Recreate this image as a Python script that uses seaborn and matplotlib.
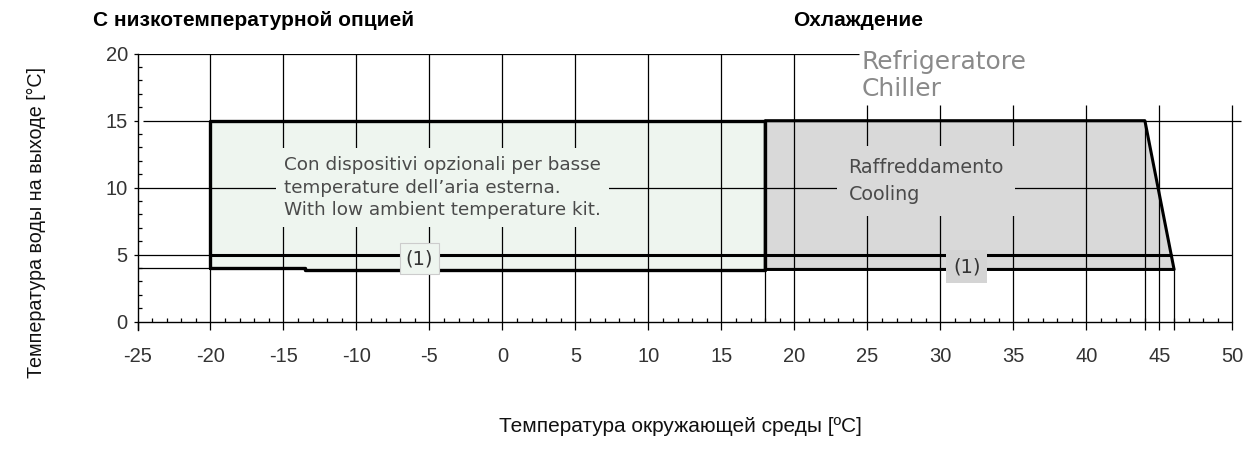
import matplotlib
matplotlib.use("Agg")
import matplotlib.pyplot as plt
from matplotlib.ticker import MultipleLocator
import seaborn as sns

# operating envelope data
low_amb_x = [-20, -20, 18, 18, -13.5, -13.5, -20]
low_amb_y = [4, 15, 15, 3.88, 3.88, 4, 4]
cooling_x = [18, 18, 44, 46, 18]
cooling_y = [3.88, 15, 15, 3.9, 3.9]
limit_x = [-20, 45.8]
limit_y = [5, 5]

x_ticks = list(range(-25, 51, 5))
y_ticks = [0, 5, 10, 15, 20]

sns.set_theme(style="white")
plt.rcParams['font.family'] = ['Liberation Sans', 'DejaVu Sans']
plt.rcParams['axes.unicode_minus'] = False

fig = plt.figure(figsize=(12.49, 4.53), dpi=100)
W, H = 1249, 453
ax = fig.add_axes([137.5 / W, 1 - 321.7 / H, (1242.7 - 137.5) / W, (321.7 - 53.7) / H])
ax.set_xlim(-25, 50.7)
ax.set_ylim(0, 20)

# fills
ax.fill(low_amb_x, low_amb_y, color='#eef5ef', zorder=1, lw=0)
ax.fill(cooling_x, cooling_y, color='#d9d9d9', zorder=1, lw=0)

# grid (hand-drawn look of the original)
glw = 0.9
ax.vlines([x for x in x_ticks if -20 <= x <= 20], 0, 20, color='black', lw=glw, zorder=2)
ax.vlines([25, 30, 35, 40, 45, 50], 0, 16.2, color='black', lw=glw, zorder=2)
ax.vlines([44], -0.6, 15, color='black', lw=glw, zorder=2, clip_on=False)
ax.vlines([46], -0.6, 4, color='black', lw=glw, zorder=2, clip_on=False)
ax.vlines([18], 0, 4, color='black', lw=glw, zorder=2)
ax.hlines([15], -24.6, 50.6, color='black', lw=glw, zorder=2)
ax.hlines([10, 5], -25, 50, color='black', lw=glw, zorder=2)
ax.hlines([4], -25, -20, color='black', lw=glw, zorder=2)
ax.hlines([20], -25, 24.4, color='black', lw=glw, zorder=2)

# envelope outlines
sns.lineplot(x=low_amb_x, y=low_amb_y, sort=False, estimator=None, color='black', lw=2.4, ax=ax, zorder=4)
sns.lineplot(x=cooling_x, y=cooling_y, sort=False, estimator=None, color='black', lw=2.2, ax=ax, zorder=4)
sns.lineplot(x=limit_x, y=limit_y, sort=False, estimator=None, color='black', lw=2.2, ax=ax, zorder=4)

# in-plot texts
txt_font = ['DejaVu Sans']
ax.text(-14.95, 10.0, "Con dispositivi opzionali per basse\ntemperature dell\u2019aria esterna.\nWith low ambient temperature kit.",
        ha='left', va='center', fontsize=13.2, color='#4a4a4a', family=txt_font, linespacing=1.3, zorder=3,
        bbox=dict(boxstyle='square,pad=0.45', fc='#eef5ef', ec='none'))
ax.text(23.7, 10.5, "Raffreddamento\nCooling", ha='left', va='center', fontsize=13.8, color='#4a4a4a',
        family=txt_font, linespacing=1.55, zorder=3,
        bbox=dict(boxstyle='square,pad=0.6', fc='#d9d9d9', ec='none'))
ax.text(24.6, 18.4, "Refrigeratore\nChiller", ha='left', va='center', fontsize=18, color='#8a8a8a',
        family=txt_font, linespacing=1.15, zorder=3)
ax.text(-5.7, 4.7, "(1)", ha='center', va='center', fontsize=14, color='#333333', family=txt_font, zorder=5,
        bbox=dict(boxstyle='square,pad=0.3', fc='#eef5ef', ec='#cccccc', lw=0.8))
ax.text(31.8, 4.1, "(1)", ha='center', va='center', fontsize=14, color='#333333', family=txt_font, zorder=5,
        bbox=dict(boxstyle='square,pad=0.35', fc='#d4d4d4', ec='none'))

# axes styling
for s in ['top', 'right']:
    ax.spines[s].set_visible(False)
ax.spines['bottom'].set_bounds(-25, 50)
ax.spines['left'].set_bounds(-0.6, 20)
for s in ['left', 'bottom']:
    ax.spines[s].set_color('black')
    ax.spines[s].set_linewidth(1.0)
ax.set_xticks(x_ticks)
ax.set_yticks(y_ticks)
ax.xaxis.set_minor_locator(MultipleLocator(1))
ax.yaxis.set_minor_locator(MultipleLocator(1))
ax.tick_params(axis='x', which='major', direction='out', length=6, width=0.9, color='black',
               labelsize=14.5, labelcolor='#333333', pad=12, bottom=True)
ax.tick_params(axis='x', which='minor', direction='in', length=3, width=0.9, color='black', bottom=True)
ax.tick_params(axis='y', which='major', direction='out', length=3, width=0.9, color='black',
               labelsize=14.5, labelcolor='#333333', pad=4, left=True)
ax.tick_params(axis='y', which='minor', direction='in', length=3, width=0.9, color='black', left=True)
ax.grid(False)

# titles and axis labels
fig.text(93 / W, 1 - 20 / H, "С низкотемпературной опцией", fontsize=15, fontweight='bold', color='black',
         ha='left', va='center')
fig.text(793 / W, 1 - 20 / H, "Охлаждение", fontsize=15, fontweight='bold', color='black', ha='left', va='center')
fig.text(36 / W, 1 - 223 / H, "Температура воды на выходе [°C]", rotation=90, fontsize=14.2, color='#111111',
         ha='center', va='center')
fig.text(680 / W, 1 - 427 / H, "Температура окружающей среды [ºC]", fontsize=15, color='#111111',
         ha='center', va='center')

fig.savefig("out.png", dpi=100)
